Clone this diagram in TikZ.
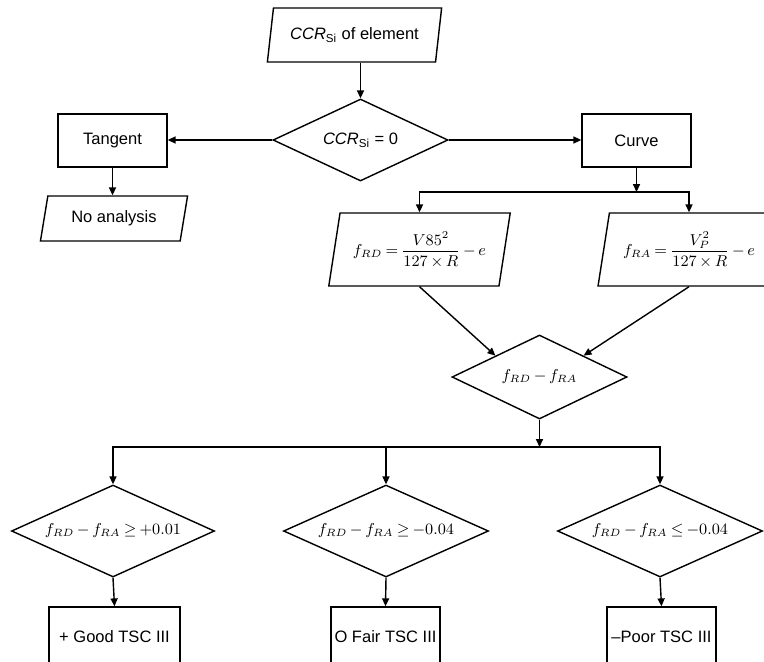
\documentclass[tikz,border=0pt]{standalone}
\usepackage{amsmath, amssymb}
\usepackage[no-math]{fontspec}
\setmainfont{Liberation Sans}
\usetikzlibrary{positioning, arrows.meta, shapes.geometric}
\medmuskip=3mu
\thickmuskip=3.5mu

\begin{document}
\begin{tikzpicture}[>={Triangle[length=4.5pt,width=4pt]}, line width=0.8pt,
        txt/.style={font=\fontsize{9.4}{11}\selectfont},
        mth/.style={font=\fontsize{9}{11}\selectfont},
        box/.style={rectangle, draw, minimum width=2.18cm, minimum height=1.06cm, inner sep=0, txt},
        para/.style={trapezium, trapezium stretches=true, trapezium left angle=77,
          trapezium right angle=103, draw, inner sep=2pt, txt},
        dia/.style={diamond, draw, aspect=2.2, inner sep=0, mth}]
        \useasboundingbox (0,0) rectangle (15.28,-13.22);
        \node[para, minimum width=3.5cm, minimum height=1.08cm] (elem) at (7.09,-0.7) {\textit{CCR}\textsubscript{Si} of element};
        \node[dia, minimum width=3.5cm, minimum height=1.64cm, txt] (zero) at (7.21,-2.8) {\textit{CCR}\textsubscript{Si} = 0};
        \node[box] (tang)  at (2.25,-2.81)  {Tangent};
        \node[box] (curve) at (12.73,-2.81) {Curve};
        \node[para, minimum width=2.96cm, minimum height=0.9cm] (noan) at (2.28,-4.37) {No analysis};
        \node[para, mth, minimum width=3.66cm, minimum height=1.46cm] (frd) at (8.39,-4.99) {$f_{RD} = \dfrac{V85^2}{127\times R} - e$};
        \node[para, mth, minimum width=3.66cm, minimum height=1.46cm] (fra) at (13.78,-4.99) {$f_{RA} = \dfrac{V_P^2}{127\times R} - e$};
        \node[dia, minimum width=3.5cm, minimum height=1.68cm] (diff) at (10.79,-7.54) {$f_{RD} - f_{RA}$};
        \coordinate (split) at (12.73,-3.84);
        \coordinate (bus)   at (10.79,-8.94);
        \node[dia, minimum width=4.06cm, minimum height=1.84cm] (c1) at (2.26,-10.62) {$f_{RD} - f_{RA} \geq +0.01$};
        \node[dia, minimum width=4.1cm, minimum height=1.84cm]  (c2) at (7.72,-10.62) {$f_{RD} - f_{RA} \geq -0.04$};
        \node[dia, minimum width=4.1cm, minimum height=1.84cm]  (c3) at (13.2,-10.62) {$f_{RD} - f_{RA} \leq -0.04$};
        \node[box, minimum width=2.62cm, minimum height=1.2cm] (r1) at (2.29,-12.74)  {+ Good TSC III};
        \node[box, minimum height=1.2cm] (r2) at (7.71,-12.74)  {O Fair TSC III};
        \node[box, minimum height=1.2cm] (r3) at (13.23,-12.74) {--Poor TSC III};
        \draw[->] (elem.south -| zero.north) -- (zero.north);
        \draw[->] (zero.west) -- (zero.west -| tang.east);
        \draw[->] (zero.east) -- (zero.east -| curve.west);
        \draw[->] (tang.south) -- (tang.south |- noan.north);
        \draw[->] (curve.south) -- (split);
        \draw[->] (split) -| (frd.north);
        \draw[->] (split) -| (fra.north);
        \draw[->] (frd.south) -- (diff.north west);
        \draw[->] (fra.south) -- (diff.north east);
        \draw[->] (diff.south) -- (bus);
        \draw[->] (bus) -| (c1.north);
        \draw[->] (bus) -| (c3.north);
        \draw[->] (c2.north |- bus) -- (c2.north);
        \foreach \i in {1,2,3}{\draw[->] (c\i.south) -- (r\i.north);}
      \end{tikzpicture}
\end{document}
